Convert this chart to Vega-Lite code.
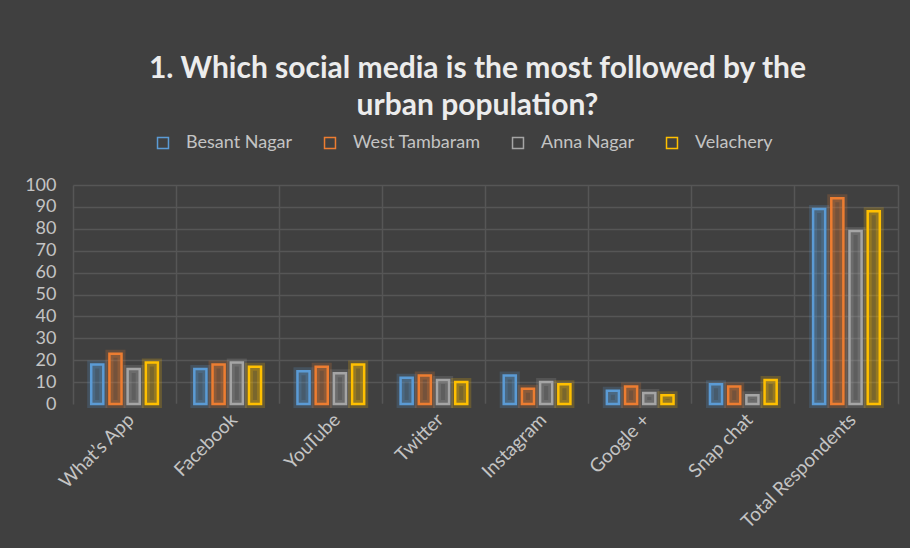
{
  "$schema": "https://vega.github.io/schema/vega-lite/v6.json",
  "width": 825,
  "height": 219,
  "autosize": {"type": "none"},
  "padding": {"left": 73, "top": 185, "right": 12, "bottom": 144},
  "background": "#404040",
  "title": {
    "text": ["1. Which social media is the most followed by the", "urban population?"],
    "anchor": "middle",
    "font": "Lato",
    "fontSize": 30,
    "fontWeight": "bold",
    "color": "#ececec",
    "lineHeight": 37,
    "dx": -8,
    "offset": 13
  },
  "data": {
    "values": [
      {"platform": "What’s App", "area": "Besant Nagar", "value": 18},
      {"platform": "What’s App", "area": "West Tambaram", "value": 23},
      {"platform": "What’s App", "area": "Anna Nagar", "value": 16},
      {"platform": "What’s App", "area": "Velachery", "value": 19},
      {"platform": "Facebook", "area": "Besant Nagar", "value": 16},
      {"platform": "Facebook", "area": "West Tambaram", "value": 18},
      {"platform": "Facebook", "area": "Anna Nagar", "value": 19},
      {"platform": "Facebook", "area": "Velachery", "value": 17},
      {"platform": "YouTube", "area": "Besant Nagar", "value": 15},
      {"platform": "YouTube", "area": "West Tambaram", "value": 17},
      {"platform": "YouTube", "area": "Anna Nagar", "value": 14},
      {"platform": "YouTube", "area": "Velachery", "value": 18},
      {"platform": "Twitter", "area": "Besant Nagar", "value": 12},
      {"platform": "Twitter", "area": "West Tambaram", "value": 13},
      {"platform": "Twitter", "area": "Anna Nagar", "value": 11},
      {"platform": "Twitter", "area": "Velachery", "value": 10},
      {"platform": "Instagram", "area": "Besant Nagar", "value": 13},
      {"platform": "Instagram", "area": "West Tambaram", "value": 7},
      {"platform": "Instagram", "area": "Anna Nagar", "value": 10},
      {"platform": "Instagram", "area": "Velachery", "value": 9},
      {"platform": "Google +", "area": "Besant Nagar", "value": 6},
      {"platform": "Google +", "area": "West Tambaram", "value": 8},
      {"platform": "Google +", "area": "Anna Nagar", "value": 5},
      {"platform": "Google +", "area": "Velachery", "value": 4},
      {"platform": "Snap chat", "area": "Besant Nagar", "value": 9},
      {"platform": "Snap chat", "area": "West Tambaram", "value": 8},
      {"platform": "Snap chat", "area": "Anna Nagar", "value": 4},
      {"platform": "Snap chat", "area": "Velachery", "value": 11},
      {"platform": "Total Respondents", "area": "Besant Nagar", "value": 89},
      {"platform": "Total Respondents", "area": "West Tambaram", "value": 94},
      {"platform": "Total Respondents", "area": "Anna Nagar", "value": 79},
      {"platform": "Total Respondents", "area": "Velachery", "value": 88}
    ]
  },
  "encoding": {
    "xOffset": {"field": "area", "type": "nominal", "sort": null,
                "scale": {"paddingInner": 0.335, "paddingOuter": 1.147}},
    "y": {"field": "value", "type": "quantitative",
          "scale": {"domain": [0, 100], "nice": false},
          "axis": {"values": [0, 10, 20, 30, 40, 50, 60, 70, 80, 90, 100], "title": null,
                   "labelOverlap": false, "ticks": false, "domain": true, "domainColor": "#565656", "domainWidth": 1.5,
                   "grid": true, "gridColor": {"condition": {"test": "datum.value === 0", "value": "#404040"}, "value": "#565656"},
                   "gridWidth": 1.5,
                   "labelFont": "Lato", "labelFontSize": 18, "labelColor": "#c4c4c4", "labelPadding": 17}},
    "color": {
      "field": "area", "type": "nominal", "sort": null,
      "scale": {"domain": ["Besant Nagar", "West Tambaram", "Anna Nagar", "Velachery"],
                "range": ["#5B9BD5", "#ED7D31", "#A5A5A5", "#FFC000"]},
      "legend": {
        "orient": "none", "direction": "horizontal", "legendX": 81, "legendY": -51,
        "title": null, "symbolType": "square", "symbolSize": 120, "symbolStrokeWidth": 1.5,
        "labelFont": "Lato", "labelFontSize": 18, "labelColor": "#c4c4c4", "labelOffset": 14,
        "columnPadding": 28,
        "encode": {"symbols": {"update": {"fill": {"value": "transparent"}, "fillOpacity": {"value": 0},
                                          "stroke": {"scale": "color", "field": "value"},
                                          "strokeWidth": {"value": 1.5}, "strokeOpacity": {"value": 1}, "opacity": {"value": 1}}}}
      }
    }
  },
  "layer": [
    {
      "mark": {"type": "bar", "filled": false, "strokeWidth": 8, "strokeOpacity": 0.2},
      "encoding": {
        "x": {
          "field": "platform", "type": "nominal", "sort": null,
          "scale": {"paddingInner": 0, "paddingOuter": 0},
          "axis": {"orient": "top", "title": null, "labels": false, "ticks": false, "domain": false,
                   "grid": true, "bandPosition": 1, "gridColor": "#565656", "gridWidth": 1.5}
        }
      }
    },
    {
      "mark": {"type": "bar", "filled": true, "fillOpacity": 0.3, "strokeWidth": 0},
      "encoding": {
        "x": {
          "field": "platform", "type": "nominal", "sort": null,
          "axis": {"orient": "bottom", "title": null, "labelAngle": -45, "labelFont": "Lato", "labelFontSize": 19,
                   "labelColor": "#c4c4c4", "ticks": false, "domain": false, "grid": false, "labelPadding": 6}
        }
      }
    },
    {
      "mark": {"type": "bar", "filled": false, "strokeWidth": 2.5},
      "encoding": {
        "x": {"field": "platform", "type": "nominal", "sort": null, "axis": null}
      }
    }
  ],
  "resolve": {"axis": {"x": "independent"}},
  "config": {"view": {"stroke": null}}
}
